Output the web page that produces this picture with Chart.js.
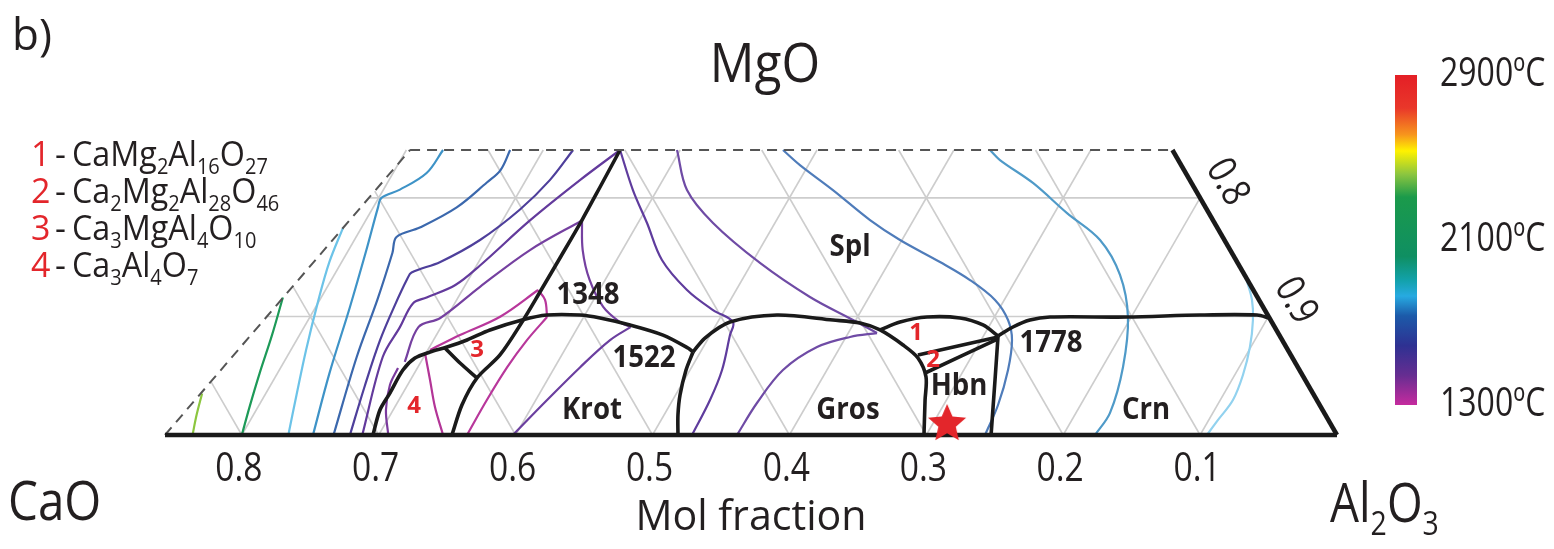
<!DOCTYPE html>
<html lang="es">
<head>
<meta charset="utf-8">
<title>Diagrama CaO-MgO-Al2O3</title>
<script src="https://cdn.jsdelivr.net/npm/chart.js@4.4.1/dist/chart.umd.min.js"></script>
<style>
  html, body { margin: 0; background: #fff; }
  #contenedor { width: 1554px; height: 549px; }
</style>
</head>
<body>
<div id="contenedor"><canvas id="diagrama" width="1554" height="549"></canvas></div>
<script>
// Coordenadas: x = posición sobre la base (CaO + MgO/2), y = fracción molar de MgO
const baseTicks = [0.8, 0.7, 0.6, 0.5, 0.4, 0.3, 0.2, 0.1];
const gridSteps = [0.1, 0.2, 0.3, 0.4, 0.5, 0.6, 0.7, 0.8];
const edgeTickMgO = [0.2, 0.1];
const edgeTickLabels = ['0.8', '0.9'];
const cutBase = 0.8561;   // corte izquierdo sobre la base
const cutTop = 0.6771;    // corte izquierdo arriba
const cutMgO = 0.2404;    // MgO máximo mostrado

// Isotermas
const isoLime = [[0.836,0],[0.833,0.017],[0.829,0.035]];
const isoGreen = [[0.800,0],[0.794,0.025],[0.787,0.052],[0.778,0.084],[0.770,0.116]];
const isoSky = [[0.766,0],[0.760,0.034],[0.753,0.072],[0.744,0.114],[0.736,0.146],[0.726,0.175]];
const isoBlue = [[0.748,0],[0.736,0.052],[0.721,0.108],[0.709,0.156],[0.7005,0.192],[0.698,0.200],[0.6845,0.207],[0.665,0.221],[0.653,0.2404]];
const isoSteel = [[0.733,0],[0.716,0.066],[0.701,0.114],[0.690,0.1535],[0.687,0.167],[0.670,0.175],[0.643,0.192],[0.621,0.213],[0.611,0.2235],[0.604,0.2404]];
const isoViolet1 = [[0.721,0],[0.710,0.042],[0.699,0.080],[0.688,0.110],[0.679,0.132],[0.676,0.137],[0.655,0.146],[0.626,0.1645],[0.597,0.190],[0.575,0.215],[0.558,0.2404]];
const isoViolet2 = [[0.712,0],[0.697,0.066],[0.6845,0.091],[0.675,0.111],[0.665,0.116],[0.644,0.1265],[0.626,0.143],[0.5895,0.181],[0.553,0.215],[0.5237,0.2404]];
const isoViolet3a = [[0.681,0.0616],[0.671,0.091],[0.655,0.0987],[0.626,0.125],[0.5895,0.156],[0.5515,0.181]];
const isoViolet3b = [[0.5515,0.181],[0.551,0.156],[0.546,0.131],[0.536,0.108],[0.524,0.0953],[0.516,0.091]];
const isoViolet3c = [[0.516,0.091],[0.531,0.080],[0.553,0.057],[0.577,0.0295],[0.602,0]];
const isoMagentaA = [[0.6625,0.0717],[0.6406,0.0843],[0.611,0.100],[0.5836,0.1223]];
const isoMagentaB = [[0.5836,0.1223],[0.5785,0.1139],[0.577,0.0995]];
const isoMagentaC = [[0.577,0.0995],[0.5917,0.080],[0.606,0.0574],[0.621,0.0295],[0.6355,0]];
const isoField4a = [[0.693,0],[0.6947,0.0211],[0.6918,0.0422],[0.6859,0.0565]];
const isoField4b = [[0.6662,0.0692],[0.6625,0.0464],[0.6589,0.0236],[0.653,0]];
const isoSplA = [[0.4821,0.2404],[0.4748,0.2066],[0.4558,0.1788],[0.4215,0.1451],[0.3850,0.1164],[0.3535,0.0970],[0.3360,0.0860]];
const isoSplB = [[0.3360,0.0860],[0.3557,0.0827],[0.3798,0.0742],[0.4047,0.0548],[0.4237,0.0270],[0.4383,0]];
const isoSplC = [[0.5237,0.2404],[0.5143,0.2066],[0.5040,0.1788],[0.4931,0.1476],[0.4748,0.1223],[0.4558,0.1054],[0.4412,0.0953],[0.4434,0.0843],[0.4492,0.0548],[0.4580,0.0295],[0.4711,0]];
const isoRight1 = [[0.4047,0.2404],[0.3923,0.2277],[0.3682,0.2066],[0.3411,0.1813],[0.3192,0.1645],[0.2900,0.1459],[0.2681,0.1307],[0.2498,0.1139],[0.2403,0.0970],[0.2374,0.0801],[0.2403,0.0548],[0.2476,0.0253],[0.2571,0]];
const isoRight2 = [[0.2535,0.2404],[0.2462,0.2319],[0.2221,0.2126],[0.1972,0.1872],[0.1731,0.1645],[0.1585,0.1350],[0.1527,0.0995],[0.1563,0.0574],[0.1658,0.0186],[0.1768,0]];
const isoRight3 = [[0.0665,0.1324],[0.0621,0.1139],[0.0614,0.0970],[0.0636,0.0742],[0.0687,0.0506],[0.0760,0.0295],[0.0869,0.0127],[0.0950,0]];

// Límites de campos (líneas negras)
const lineApex = [[0.5237,0.2404],[0.5383,0.2092],[0.5515,0.1813],[0.5676,0.1493],[0.5822,0.1206],[0.5953,0.0953],[0.6114,0.0675],[0.6282,0.0481],[0.6392,0.0253],[0.6465,0]];
const lineKrotTop = [[0.7042,0],[0.6991,0.0211],[0.6918,0.0354],[0.6823,0.0548],[0.6735,0.0649],[0.6625,0.0700],[0.6501,0.0742],[0.6355,0.0801],[0.6187,0.0886],[0.5953,0.0970],[0.5771,0.1012],[0.5530,0.1012],[0.5383,0.0987],[0.5164,0.0928],[0.4923,0.0843],[0.4741,0.0734],[0.4704,0.0700]];
const lineField3 = [[0.6516,0.0734],[0.6406,0.0607],[0.6282,0.0481]];
const lineKrotRight = [[0.4704,0.0700],[0.4755,0.0548],[0.4799,0.0337],[0.4814,0.0169],[0.4814,0]];
const lineGros = [[0.4704,0.0700],[0.4617,0.0818],[0.4434,0.0953],[0.4091,0.1012],[0.3682,0.0970],[0.3484,0.0945],[0.3338,0.0886],[0.3170,0.0759],[0.3061,0.0649],[0.3002,0.0489],[0.3009,0.0295],[0.3017,0]];
const lineField1 = [[0.3338,0.0886],[0.3192,0.0953],[0.2995,0.0995],[0.2754,0.0987],[0.2586,0.0928],[0.2476,0.0835]];
const lineField12 = [[0.3061,0.0675],[0.2476,0.0827]];
const lineField2 = [[0.3009,0.0523],[0.2476,0.0810]];
const lineHbn = [[0.2476,0.0835],[0.2498,0.0464],[0.2527,0]];
const lineCrn = [[0.2476,0.0835],[0.2367,0.0911],[0.2243,0.0970],[0.2096,0.0995],[0.1534,0.0995],[0.1001,0.1012],[0.0584,0.1012],[0.0494,0.0987]];

// Rótulos
const fieldNames = ['Spl', 'Krot', 'Gros', 'Hbn', 'Crn'];
const fieldAt = [[0.3557,0.1586],[0.5442,0.0211],[0.3572,0.0211],[0.2761,0.0413],[0.1395,0.0211]];
const eutectics = ['1348', '1522', '1778'];
const eutecticAt = [[0.5471,0.1181],[0.5062,0.0649],[0.2089,0.0768]];
const phaseNumbers = ['1', '2', '3', '4'];
const phaseAt = [[0.3075,0.0860],[0.2951,0.0633],[0.6282,0.0717],[0.6742,0.0245]];
const phaseFormulas = [
  [['CaMg',0],['2',1],['Al',0],['16',1],['O',0],['27',1]],
  [['Ca',0],['2',1],['Mg',0],['2',1],['Al',0],['28',1],['O',0],['46',1]],
  [['Ca',0],['3',1],['MgAl',0],['4',1],['O',0],['10',1]],
  [['Ca',0],['3',1],['Al',0],['4',1],['O',0],['7',1]]
];
const starAt = [[0.2848,0.0093]];
const colorbarLabels = ['2900ºC', '2100ºC', '1300ºC'];

const TEXT = '#231f20';
const RED = '#e3262b';
const BLACK = '#1a1a1a';

function serie(points, color, width, order, extra) {
  return Object.assign({
    data: points.map(p => ({ x: p[0], y: p[1] })),
    showLine: true,
    borderColor: color,
    borderWidth: width,
    pointRadius: 0,
    tension: 0.35,
    fill: false,
    clip: false,
    order: order
  }, extra || {});
}

// Rejilla ternaria recortada al trapecio
function leftEdge(m) { return cutBase - (cutBase - cutTop) * m / cutMgO; }
const gridLines = [];
gridSteps.filter(m => m < cutMgO).forEach(m => gridLines.push([[leftEdge(m), m], [m / 2, m]]));
gridSteps.forEach(v => {
  const hit = (cutBase - v) / (0.5 + (cutBase - cutTop) / cutMgO);
  const mUp = Math.min(cutMgO, hit);
  gridLines.push([[v, 0], [v + mUp / 2, mUp]]);
  const mRight = Math.min(cutMgO, v);
  gridLines.push([[v, 0], [v - mRight / 2, mRight]]);
});

const datasets = [];
gridLines.forEach(g => datasets.push(serie(g, '#cdcdcd', 1.6, 50, { tension: 0 })));

const isoColors = [
  [isoLime, '#8cc63f'], [isoGreen, '#1d9a58'], [isoSky, '#6cc3e8'], [isoBlue, '#3e93c7'],
  [isoSteel, '#3b68ad'], [isoViolet1, '#4e3f9b'], [isoViolet2, '#633a9c'],
  [isoViolet3a, '#7540a0'], [isoViolet3b, '#7540a0'], [isoViolet3c, '#6b3f9f'],
  [isoMagentaA, '#b8379b'], [isoMagentaB, '#b8379b'], [isoMagentaC, '#b8379b'],
  [isoField4a, '#7b3a9d'], [isoField4b, '#b33597'],
  [isoSplA, '#6f4ba5'], [isoSplB, '#6f4ba5'], [isoSplC, '#5f3c9d'],
  [isoRight1, '#4f7cba'], [isoRight2, '#4f9ac8'], [isoRight3, '#92d2ef']
];
isoColors.forEach(([pts, col]) => datasets.push(serie(pts, col, 2.2, 30)));

[lineApex, lineKrotTop, lineField3, lineKrotRight, lineGros, lineField1,
 lineField12, lineField2, lineHbn, lineCrn].forEach(l => datasets.push(serie(l, BLACK, 3.6, 10, { tension: 0.3 })));

// Marco del trapecio
datasets.push(serie([[cutBase, 0], [0, 0]], BLACK, 4.5, 5, { tension: 0 }));
datasets.push(serie([[0, 0], [cutMgO / 2, cutMgO]], BLACK, 4.5, 5, { tension: 0 }));
datasets.push(serie([[cutTop, cutMgO], [cutMgO / 2, cutMgO]], '#555', 2, 5, { tension: 0, borderDash: [10, 7] }));
datasets.push(serie([[cutBase, 0], [cutTop, cutMgO]], '#555', 2, 5, { tension: 0, borderDash: [10, 7] }));

function estrella(r, color) {
  const c = document.createElement('canvas');
  c.width = c.height = r * 2 + 2;
  const g = c.getContext('2d');
  g.fillStyle = color;
  g.beginPath();
  for (let i = 0; i < 10; i++) {
    const rad = i % 2 ? r * 0.46 : r;
    const a = -Math.PI / 2 + i * Math.PI / 5;
    g.lineTo(r + 1 + rad * Math.cos(a), r + 1 + rad * Math.sin(a));
  }
  g.closePath();
  g.fill();
  return c;
}
datasets.push(serie(starAt, RED, 0, 0, { showLine: false, pointStyle: estrella(20, RED), pointRadius: 20 }));

function texto(ctx, str, x, y, size, o) {
  o = o || {};
  ctx.save();
  ctx.translate(x, y);
  if (o.rot) ctx.rotate(o.rot);
  ctx.scale(o.sq || 1, 1);
  ctx.font = (o.weight || 'normal') + ' ' + size + 'px "Open Sans", sans-serif';
  ctx.fillStyle = o.color || TEXT;
  ctx.textAlign = o.align || 'center';
  ctx.textBaseline = o.base || 'middle';
  ctx.fillText(str, 0, 0);
  ctx.restore();
}

function formula(ctx, parts, x, y, size, sq) {
  ctx.save();
  ctx.translate(x, y);
  ctx.scale(sq, 1);
  ctx.fillStyle = TEXT;
  ctx.textAlign = 'left';
  ctx.textBaseline = 'alphabetic';
  let cx = 0;
  parts.forEach(([t, sub]) => {
    ctx.font = (sub ? size * 0.62 : size) + 'px "Open Sans", sans-serif';
    ctx.fillText(t, cx, sub ? size * 0.24 : 0);
    cx += ctx.measureText(t).width;
  });
  ctx.restore();
}

const rotulos = {
  id: 'rotulos',
  afterDraw(chart) {
    const ctx = chart.ctx;
    const xs = chart.scales.x, ys = chart.scales.y;
    const px = v => xs.getPixelForValue(v);
    const py = v => ys.getPixelForValue(v);

    fieldNames.forEach((t, i) => texto(ctx, t, px(fieldAt[i][0]), py(fieldAt[i][1]), 30, { weight: 'bold', sq: 0.92 }));
    eutectics.forEach((t, i) => texto(ctx, t, px(eutecticAt[i][0]), py(eutecticAt[i][1]), 30, { weight: 'bold', sq: 0.92 }));
    phaseNumbers.forEach((t, i) => texto(ctx, t, px(phaseAt[i][0]), py(phaseAt[i][1]), 24, { weight: 'bold', color: RED }));

    // eje inferior
    baseTicks.forEach(v => texto(ctx, v.toFixed(1), px(v) - 3, 481, 40, { sq: 0.84, base: 'alphabetic' }));
    texto(ctx, 'Mol fraction', (chart.chartArea.left + chart.chartArea.right) / 2, 530, 42, { sq: 0.98, base: 'alphabetic' });

    // eje derecho (Al2O3), girado sobre el borde
    const ang = Math.atan2(py(0) - py(cutMgO), px(0) - px(cutMgO / 2));
    edgeTickMgO.forEach((m, i) => {
      const x = px(m / 2) + 31 * Math.sin(ang);
      const y = py(m) - 31 * Math.cos(ang);
      texto(ctx, edgeTickLabels[i], x, y, 40, { sq: 0.82, rot: ang });
    });

    // vértices
    texto(ctx, 'MgO', 765, 82, 54, { sq: 0.92, base: 'alphabetic' });
    texto(ctx, 'CaO', 8, 520, 54, { sq: 0.88, base: 'alphabetic', align: 'left' });
    formula(ctx, [['Al',0],['2',1],['O',0],['3',1]], 1330, 522, 54, 0.85);
    texto(ctx, 'b)', 12, 50, 44, { base: 'alphabetic', align: 'left' });

    // leyenda de fases
    phaseNumbers.forEach((n, i) => {
      const y = 166 + 37 * i;
      texto(ctx, n, 31, y, 34, { base: 'alphabetic', align: 'left', color: RED });
      texto(ctx, '-', 55, y, 34, { base: 'alphabetic', align: 'left' });
      formula(ctx, phaseFormulas[i], 72, y, 34, 0.95);
    });

    // barra de color
    const top = 75, bot = 405;
    const grad = ctx.createLinearGradient(0, top, 0, bot);
    [[0, '#e41f26'], [0.1, '#e9372a'], [0.18, '#f7941d'], [0.23, '#fff200'], [0.3, '#8dc63f'],
     [0.37, '#1b9a4b'], [0.55, '#0f8f62'], [0.62, '#12a1a8'], [0.67, '#27aae1'], [0.73, '#1c5aa9'],
     [0.82, '#2e3192'], [0.91, '#662d91'], [1, '#c52b9e']].forEach(([s, c]) => grad.addColorStop(s, c));
    ctx.fillStyle = grad;
    ctx.fillRect(1395, top, 22, bot - top);
    colorbarLabels.forEach((t, i) => {
      const y = top + (bot - top) * i / (colorbarLabels.length - 1);
      texto(ctx, t, 1440, y, 40, { sq: 0.8, align: 'left' });
    });
  }
};

new Chart(document.getElementById('diagrama'), {
  type: 'scatter',
  data: { datasets },
  options: {
    responsive: false,
    animation: false,
    events: [],
    layout: { padding: { left: 165, right: 217, top: 150, bottom: 114 } },
    scales: {
      x: { type: 'linear', reverse: true, min: 0, max: cutBase, display: false },
      y: { type: 'linear', min: 0, max: cutMgO, display: false }
    },
    plugins: { legend: { display: false }, tooltip: { enabled: false } }
  },
  plugins: [rotulos]
});
</script>
</body>
</html>
